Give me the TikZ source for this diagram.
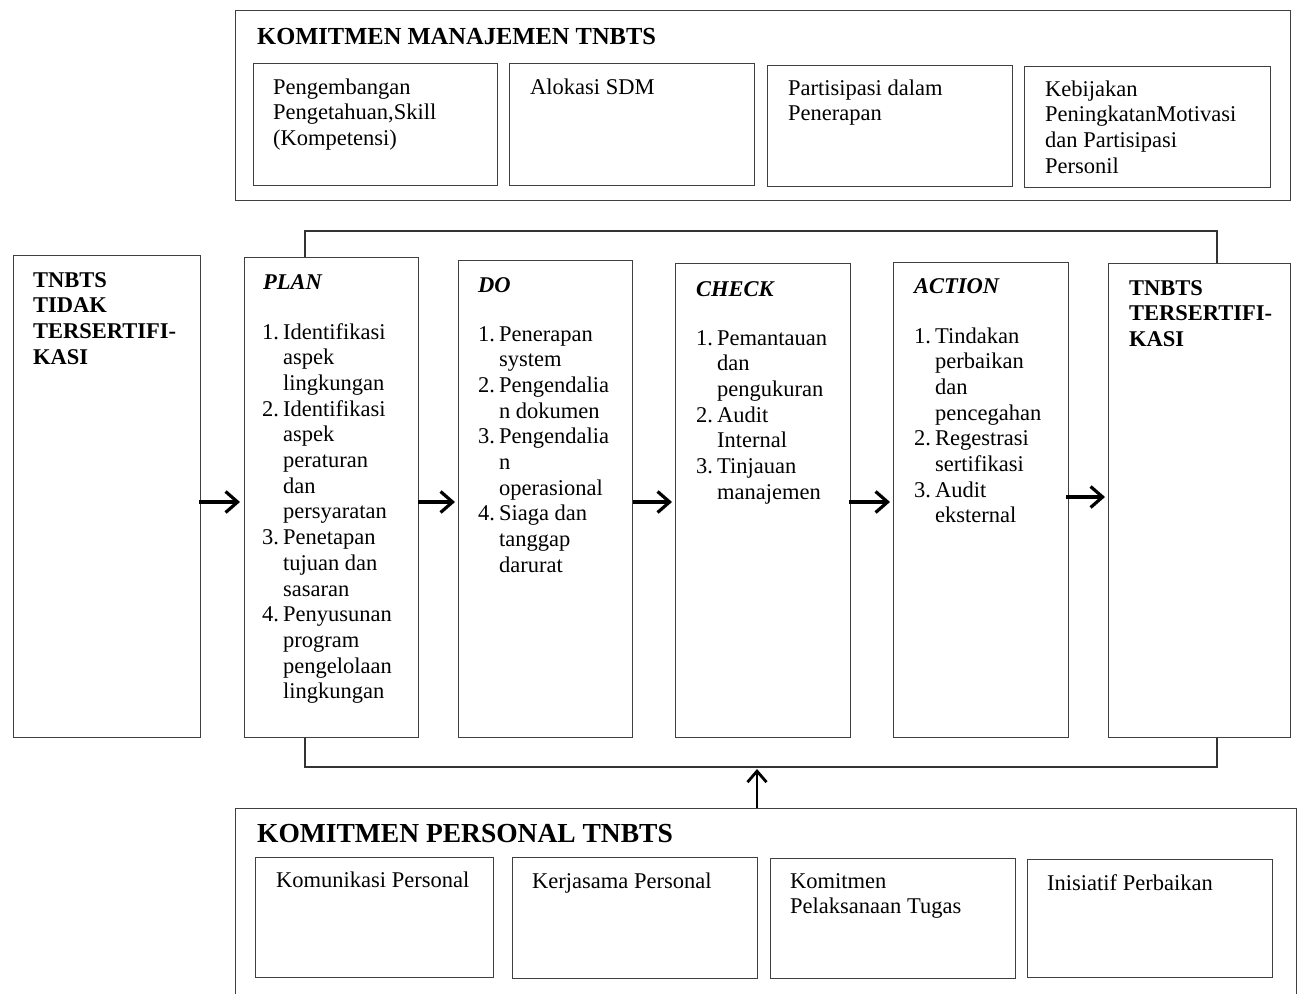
\documentclass[tikz,border=0pt]{standalone}
\usepackage{fontspec}
\setmainfont{Liberation Serif}
\usetikzlibrary{arrows.meta}
\newcommand\bodyfont{\fontsize{22.5}{25.7}\selectfont}
\newcommand\nl[1]{\begin{tabular}[t]{@{}l@{}}#1\end{tabular}}
\newcommand\numl[1]{\begin{tabular}[t]{@{}l@{\hspace{4pt}}l@{}}#1\end{tabular}}
\begin{document}
\begin{tikzpicture}[x=1pt,y=-1pt,
  box/.style={draw=black!75, line width=1.1pt, anchor=north west, inner sep=0pt},
  txt/.style={anchor=base west, inner sep=0pt, font=\bodyfont},
  bold/.style={anchor=base west, inner sep=0pt, font=\bodyfont\bfseries},
  head/.style={anchor=base west, inner sep=0pt, font=\bodyfont\bfseries\itshape},
  conn/.style={draw=black!80, line width=1.3pt},
  arr/.style={draw=black, line width=3.2pt, -{Straight Barb[length=12pt,width=21pt,line width=3.2pt]}}]
\useasboundingbox (0,0) rectangle (1297,993);

% ---------- top group ----------
\node[box, minimum width=1055pt, minimum height=190pt] (topframe) at (235,10) {};
\node[anchor=base west, inner sep=0pt, font=\fontsize{24.5}{28}\selectfont\bfseries] (toptitle) at (257,44) {KOMITMEN MANAJEMEN TNBTS};
\node[box, minimum width=244pt, minimum height=122pt] (t1) at (253,63) {};
\node[box, minimum width=245pt, minimum height=122pt] (t2) at (509,63) {};
\node[box, minimum width=245pt, minimum height=121pt] (t3) at (767,65) {};
\node[box, minimum width=246pt, minimum height=121pt] (t4) at (1024,66) {};
\node[txt] (t1txt) at (273,94) {\nl{Pengembangan\\Pengetahuan,Skill\\(Kompetensi)}};
\node[txt] (t2txt) at (530,94) {\nl{Alokasi SDM}};
\node[txt] (t3txt) at (788,95) {\nl{Partisipasi dalam\\Penerapan}};
\node[txt] (t4txt) at (1045,96) {\nl{Kebijakan\\PeningkatanMotivasi\\dan Partisipasi\\Personil}};

% ---------- main row ----------
\node[box, minimum width=187pt, minimum height=482pt] (tidak) at (13,255) {};
\node[box, minimum width=174pt, minimum height=480pt] (plan) at (244,257) {};
\node[box, minimum width=174pt, minimum height=477pt] (do) at (458,260) {};
\node[box, minimum width=175pt, minimum height=474pt] (check) at (675,263) {};
\node[box, minimum width=175pt, minimum height=475pt] (action) at (893,262) {};
\node[box, minimum width=182pt, minimum height=474pt] (ters) at (1108,263) {};

\node[bold] (tidaktxt) at (33,287) {\nl{TNBTS\\TIDAK\\TERSERTIFI-\\KASI}};
\node[head] (planh) at (263,289) {PLAN};
\node[txt] (planl) at (262,339) {\numl{1. & Identifikasi\\ & aspek\\ & lingkungan\\
  2. & Identifikasi\\ & aspek\\ & peraturan\\ & dan\\ & persyaratan\\
  3. & Penetapan\\ & tujuan dan\\ & sasaran\\
  4. & Penyusunan\\ & program\\ & pengelolaan\\ & lingkungan}};
\node[head] (doh) at (478,292) {DO};
\node[txt] (dol) at (478,341) {\numl{1. & Penerapan\\ & system\\
  2. & Pengendalia\\ & n dokumen\\
  3. & Pengendalia\\ & n\\ & operasional\\
  4. & Siaga dan\\ & tanggap\\ & darurat}};
\node[head] (checkh) at (696,296) {CHECK};
\node[txt] (checkl) at (696,345) {\numl{1. & Pemantauan\\ & dan\\ & pengukuran\\
  2. & Audit\\ & Internal\\
  3. & Tinjauan\\ & manajemen}};
\node[head] (actionh) at (914,293) {ACTION};
\node[txt] (actionl) at (914,343) {\numl{1. & Tindakan\\ & perbaikan\\ & dan\\ & pencegahan\\
  2. & Regestrasi\\ & sertifikasi\\
  3. & Audit\\ & eksternal}};
\node[bold] (terstxt) at (1129,295) {\nl{TNBTS\\TERSERTIFI-\\KASI}};

% arrows between main boxes
\coordinate (ay) at (0,502);
\draw[arr, shorten >=4pt, shorten <=-2pt] (tidak.east |- ay) -- (plan.west |- ay);
\draw[arr, shorten >=3pt, shorten <=-1pt] (plan.east |- ay) -- (do.west |- ay);
\draw[arr, shorten >=3pt] (do.east |- ay) -- (check.west |- ay);
\draw[arr, shorten >=3pt, shorten <=-2pt] (check.east |- ay) -- (action.west |- ay);
\coordinate (ay2) at (0,497);
\draw[arr, shorten >=3pt, shorten <=-3pt] (action.east |- ay2) -- (ters.west |- ay2);

% loop connectors
\coordinate (tl) at (305,231);
\coordinate (tr) at (1217,231);
\draw[conn] (plan.north -| tl) -- (tl) -- (tr) -- (ters.north -| tr);
\coordinate (bl) at (305,767);
\coordinate (br) at (1217,767);
\draw[conn] (plan.south -| bl) -- (bl) -- (br) -- (ters.south -| br);

% ---------- bottom group ----------
\node[box, minimum width=1061pt, minimum height=200pt] (botframe) at (235,808) {};
\node[anchor=base west, inner sep=0pt, font=\fontsize{27.5}{31}\selectfont\bfseries] (bottitle) at (257,842) {KOMITMEN PERSONAL TNBTS};
\node[box, minimum width=238pt, minimum height=120pt] (b1) at (255,857) {};
\node[box, minimum width=245pt, minimum height=121pt] (b2) at (512,857) {};
\node[box, minimum width=245pt, minimum height=120pt] (b3) at (770,858) {};
\node[box, minimum width=245pt, minimum height=118pt] (b4) at (1027,859) {};
\node[txt] (b1txt) at (276,887) {\nl{Komunikasi Personal}};
\node[txt] (b2txt) at (532,888) {\nl{Kerjasama Personal}};
\node[txt] (b3txt) at (790,888) {\nl{Komitmen\\Pelaksanaan Tugas}};
\node[txt] (b4txt) at (1047,890) {\nl{Inisiatif Perbaikan}};

\coordinate (up) at (757,769);
\draw[arr, line width=2.8pt, -{Straight Barb[length=11pt,width=19pt,line width=2.8pt]}] (botframe.north -| up) -- (up);
\end{tikzpicture}
\end{document}
